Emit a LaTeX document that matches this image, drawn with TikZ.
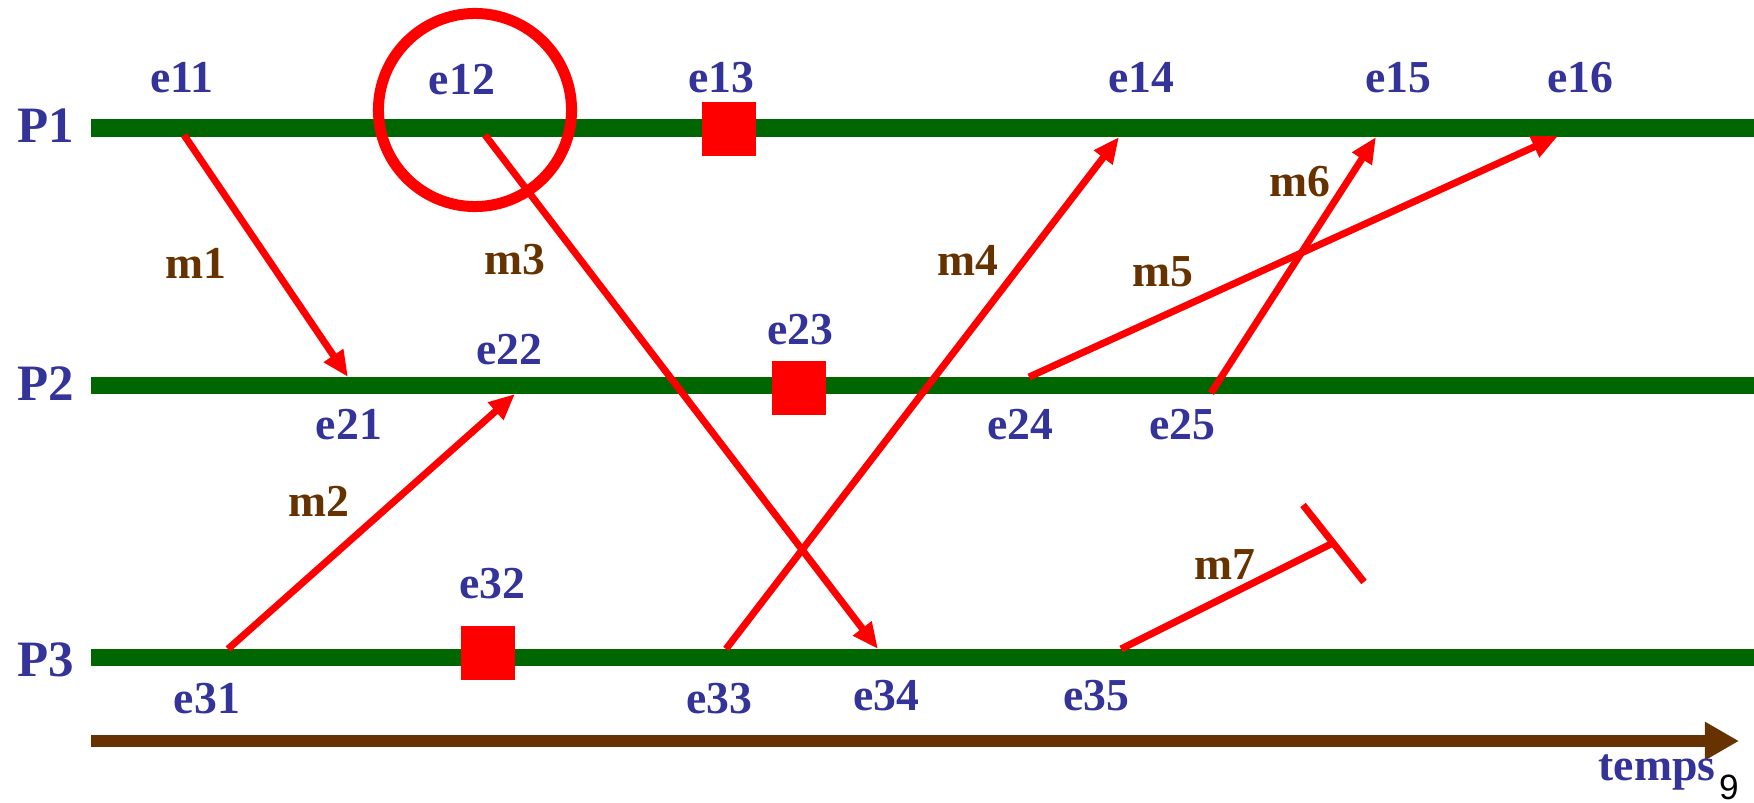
\documentclass[tikz,border=0pt]{standalone}
\usepackage{fontspec}
\setmainfont{Liberation Serif}
\setsansfont{Liberation Sans}
\usetikzlibrary{arrows.meta}
\definecolor{evblue}{HTML}{333399}
\definecolor{msgbrown}{HTML}{663300}
\definecolor{procgreen}{HTML}{006600}
\definecolor{msgred}{HTML}{FF0000}

\begin{document}
\begin{tikzpicture}[x=0.01cm,y=-0.01cm,
  evlabel/.style={font=\bfseries\fontsize{13}{15}\selectfont,text=evblue,inner sep=0pt},
  proclabel/.style={font=\bfseries\fontsize{14.5}{16}\selectfont,text=evblue,inner sep=0pt},
  msglabel/.style={font=\bfseries\fontsize{13}{15}\selectfont,text=msgbrown,inner sep=0pt},
  procline/.style={procgreen,line width=0.17cm},
  msg/.style={msgred,line width=0.07cm,-{Triangle[length=0.26cm,width=0.22cm]}},
  ckpt/.style={fill=msgred,minimum size=0.53cm,inner sep=0pt}]
% Units: 1 = one pixel of the 1754 x 803 frame, y grows downwards
\useasboundingbox (0,0) rectangle (1754,803);

% ── Process lines ───────────────────────────────────────────────
\draw[procline] (91,128)--(1754,128);
\draw[procline] (91,385.5)--(1754,385.5);
\draw[procline] (91,657.5)--(1754,657.5);
\node[proclabel] (p1) at (46,126) {P1};
\node[proclabel] (p2) at (46,384) {P2};
\node[proclabel] (p3) at (46,660) {P3};

% ── Time axis ───────────────────────────────────────────────────
\coordinate (t0) at (91,741);
\coordinate (t1) at (1739,741);
\draw[msgbrown,line width=0.12cm,-{Triangle[length=0.34cm,width=0.36cm]}] (t0)--(t1);
\node[evlabel] (temps) at (1657,772) {temps};
\node[font=\sffamily\fontsize{10}{12}\selectfont,inner sep=0pt] (page) at (1729,787) {9};

% ── Events ──────────────────────────────────────────────────────
\coordinate (e11) at (184,135);
\coordinate (e12) at (485,135);
\coordinate (e14) at (1119,137);
\coordinate (e15) at (1376,137);
\coordinate (e16) at (1558,136);
\coordinate (e21) at (348,377);
\coordinate (e22) at (515,394);
\coordinate (e24) at (1029,377);
\coordinate (e25) at (1211,393);
\coordinate (e31) at (228,649);
\coordinate (e33) at (726,649);
\coordinate (e34) at (878,649);
\coordinate (e35) at (1121,649);
% Checkpoints
\node[ckpt] (e13) at (729,129) {};
\node[ckpt] (e23) at (799,388) {};
\node[ckpt] (e32) at (488,653) {};

\node[evlabel] (l11) at (182,78) {e11};
\node[evlabel] (l12) at (462,80) {e12};
\node[evlabel] (l13) at (721,78) {e13};
\node[evlabel] (l14) at (1141,78) {e14};
\node[evlabel] (l15) at (1398,78) {e15};
\node[evlabel] (l16) at (1580,78) {e16};
\node[evlabel] (l21) at (349,425) {e21};
\node[evlabel] (l22) at (509,350) {e22};
\node[evlabel] (l23) at (800,330) {e23};
\node[evlabel] (l24) at (1020,425) {e24};
\node[evlabel] (l25) at (1182,425) {e25};
\node[evlabel] (l31) at (207,699) {e31};
\node[evlabel] (l32) at (492,584) {e32};
\node[evlabel] (l33) at (719,699) {e33};
\node[evlabel] (l34) at (886,696) {e34};
\node[evlabel] (l35) at (1096,696) {e35};

% Highlight on e12
\draw[msgred,line width=0.11cm] (475,110) circle[radius=0.965cm];

% ── Messages ────────────────────────────────────────────────────
\draw[msg] (e11)--(e21);
\draw[msg] (e31)--(e22);
\draw[msg] (e12)--(e34);
\draw[msg] (e33)--(e14);
\draw[msg] (e24)--(e16);
\draw[msg] (e25)--(e15);
% Lost message m7
\coordinate (m7end) at (1333,543);
\coordinate (m7a) at (1303,505);
\coordinate (m7b) at (1364,582);
\draw[msgred,line width=0.07cm] (e35)--(m7end);
\draw[msgred,line width=0.07cm] (m7a)--(m7b);

\node[msglabel] (m1) at (196,263) {m1};
\node[msglabel] (m2) at (319,501) {m2};
\node[msglabel] (m3) at (515,260) {m3};
\node[msglabel] (m4) at (968,260) {m4};
\node[msglabel] (m5) at (1163,272) {m5};
\node[msglabel] (m6) at (1300,182) {m6};
\node[msglabel] (m7) at (1225,565) {m7};
\end{tikzpicture}
\end{document}
